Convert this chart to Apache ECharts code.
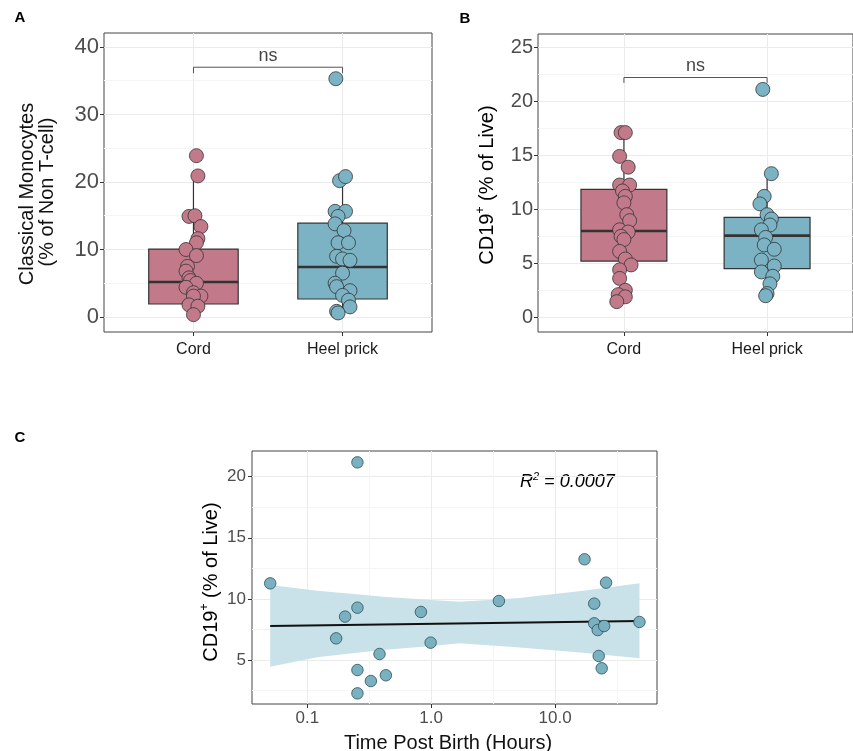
<!DOCTYPE html>
<html>
<head>
<meta charset="utf-8">
<title>CD19 and classical monocytes</title>
<script src="https://cdn.jsdelivr.net/npm/echarts@6.0.0/dist/echarts.min.js"></script>
<style>
  html, body { margin: 0; padding: 0; background: #fff; }
  #chart { width: 853px; height: 751px; }
</style>
</head>
<body>
<div id="chart"></div>
<script>
// groups on the x axis of A and B
var groups = ['Cord', 'Heel prick'];

// panel A: classical monocytes (% of non T-cell), with jitter offsets
var monoCord = [23.9, 20.9, 14.9, 15.0, 13.4, 11.6, 11.0, 10.0, 9.1, 7.5, 6.8, 5.8, 5.4, 5.0, 4.4, 3.6, 3.1, 3.1, 1.8, 1.6, 0.35];
var monoCordJit = [0.02, 0.03, -0.03, 0.01, 0.05, 0.03, 0.02, -0.05, 0.02, -0.04, -0.05, -0.03, -0.02, 0.02, -0.05, 0, 0.05, 0, -0.03, 0.03, 0];
var monoHeel = [35.3, 20.2, 20.8, 15.65, 15.65, 14.9, 13.8, 12.8, 11.0, 11.0, 9.0, 8.6, 8.4, 6.5, 5.0, 4.5, 3.9, 3.2, 2.5, 1.5, 0.84, 0.6];
var monoHeelJit = [-0.045, -0.02, 0.02, -0.05, 0.02, -0.03, -0.05, 0.01, -0.03, 0.04, -0.04, 0, 0.05, 0, -0.05, -0.04, 0.05, 0, 0.04, 0.05, -0.04, -0.03];
// box stats: min, q1, median, q3, max
var monoBoxCord = [0.35, 1.93, 5.19, 10.07, 20.9];
var monoBoxHeel = [0.6, 2.67, 7.4, 13.9, 20.8];

// panel B: CD19+ (% of live)
var cdCord = [17.1, 17.1, 14.9, 13.9, 12.25, 12.25, 11.7, 11.2, 10.6, 9.5, 8.95, 8.1, 7.9, 7.5, 7.2, 6.1, 5.4, 4.85, 4.4, 3.6, 2.5, 2.1, 1.9, 1.45];
var cdCordJit = [-0.02, 0.01, -0.03, 0.03, -0.03, 0.04, -0.01, 0.01, 0, 0.02, 0.04, -0.03, 0.03, -0.02, 0, -0.03, 0.01, 0.05, -0.03, -0.03, 0.01, -0.04, 0.01, -0.05];
var cdHeel = [21.1, 13.3, 11.2, 10.5, 9.5, 9.1, 8.55, 8.1, 7.4, 6.7, 6.3, 5.3, 4.75, 4.2, 3.8, 3.1, 2.2, 2.0];
var cdHeelJit = [-0.03, 0.03, -0.02, -0.05, 0, 0.03, 0.02, -0.04, -0.01, -0.02, 0.05, -0.04, 0.05, -0.04, 0.04, 0.02, 0, -0.01];
var cdBoxCord = [1.45, 5.21, 7.99, 11.85, 17.1];
var cdBoxHeel = [2.0, 4.5, 7.56, 9.26, 13.3];

// significance brackets
var bracketA = [[1, 36.1], [1, 37.0], [2, 37.0], [2, 36.1]];
var bracketB = [[1, 21.7], [1, 22.2], [2, 22.2], [2, 21.7]];

// panel C: time post birth (hours) vs CD19+
var hoursC = [0.0502, 0.254, 0.254, 0.202, 0.171, 0.254, 0.254, 0.326, 0.383, 0.431, 0.826, 0.99, 3.52, 17.3, 20.7, 20.7, 22.1, 24.9, 25.8, 22.5, 23.8, 48.0];
var cd19C = [11.27, 21.17, 9.28, 8.55, 6.77, 4.18, 2.27, 3.28, 5.49, 3.75, 8.93, 6.42, 9.83, 13.24, 9.61, 8.0, 7.45, 7.78, 11.33, 5.33, 4.32, 8.11];
var fitHours = [0.0502, 48.0];
var fitValues = [7.78, 8.2];
var bandHours = [0.0502, 0.12, 0.25, 0.41, 1.0, 1.7, 4.9, 16.9, 48.0];
var bandUpper = [11.14, 10.67, 10.37, 10.18, 9.9, 9.77, 10.05, 10.67, 11.28];
var bandLower = [4.45, 5.22, 5.6, 5.82, 6.15, 6.37, 6.04, 5.6, 5.14];

// ticks
var yTicksA = [0, 10, 20, 30, 40], yMinorA = [5, 15, 25, 35];
var yTicksB = [0, 5, 10, 15, 20, 25], yMinorB = [2.5, 7.5, 12.5, 17.5, 22.5];
var yTicksC = [5, 10, 15, 20], yMinorC = [2.5, 7.5, 12.5, 17.5];
var xTicksC = [0.1, 1, 10], xTickLabelsC = ['0.1', '1.0', '10.0'], xMinorC = [0.316, 3.16, 31.6];

var FONT = '"Liberation Sans", Arial, sans-serif';
var PINK = '#c27a8b', BLUE = '#7bb3c4';
var log10 = function (v) { return Math.log10(v); };

function pts(vals, jit, center) {
  return vals.map(function (v, i) { return [center + jit[i], v]; });
}

function renderBox(params, api) {
  var x = api.value(0);
  var half = 0.3;
  var mn = api.coord([x, api.value(1)]);
  var q1 = api.coord([x - half, api.value(2)]);
  var md = api.coord([x - half, api.value(3)]);
  var q3 = api.coord([x + half, api.value(4)]);
  var mx = api.coord([x, api.value(5)]);
  var fill = params.dataIndex === 0 ? PINK : BLUE;
  return {
    type: 'group',
    children: [
      { type: 'line', shape: { x1: mx[0], y1: mx[1], x2: mx[0], y2: q3[1] }, style: { stroke: '#333', lineWidth: 1.2 } },
      { type: 'line', shape: { x1: mn[0], y1: mn[1], x2: mn[0], y2: q1[1] }, style: { stroke: '#333', lineWidth: 1.2 } },
      { type: 'rect', shape: { x: q1[0], y: q3[1], width: q3[0] - q1[0], height: q1[1] - q3[1] }, style: { fill: fill, stroke: '#333', lineWidth: 1.2 } },
      { type: 'line', shape: { x1: q1[0], y1: md[1], x2: q3[0], y2: md[1] }, style: { stroke: '#333', lineWidth: 2.6 } }
    ]
  };
}

function renderBand(params, api) {
  var up = [], lo = [];
  for (var i = 0; i < bandHours.length; i++) {
    up.push(api.coord([log10(bandHours[i]), bandUpper[i]]));
    lo.unshift(api.coord([log10(bandHours[i]), bandLower[i]]));
  }
  return { type: 'polygon', shape: { points: up.concat(lo) }, style: { fill: '#c9e1e8' } };
}

function catAxis(gi) {
  return {
    type: 'value', gridIndex: gi, min: 0.4, max: 2.6,
    axisLine: { show: false, onZero: false },
    axisTick: { customValues: [1, 2], length: 4, lineStyle: { color: '#333' } },
    axisLabel: { customValues: [1, 2], margin: 10, fontSize: 16, color: '#1a1a1a', fontFamily: FONT,
      formatter: function (v) { return groups[Math.round(v) - 1]; } },
    splitLine: { show: true, lineStyle: { color: '#ebebeb', width: 1 } }
  };
}

function valAxis(gi, min, max, ticks, fs, margin) {
  return {
    type: 'value', gridIndex: gi, min: min, max: max, position: 'left',
    axisLine: { show: false, onZero: false },
    axisTick: { customValues: ticks, length: 4, lineStyle: { color: '#333' } },
    axisLabel: { customValues: ticks, fontSize: fs, color: '#4d4d4d', fontFamily: FONT, margin: margin },
    splitLine: { show: true, lineStyle: { color: '#ebebeb', width: 1 } }
  };
}

function minorAxis(gi, min, max, ticks, pos) {
  return {
    type: 'value', gridIndex: gi, min: min, max: max, position: pos,
    axisLine: { show: false, onZero: false },
    axisTick: { show: false, customValues: ticks },
    axisLabel: { show: false, customValues: ticks },
    splitLine: { show: true, lineStyle: { color: '#f5f5f5', width: 1 } }
  };
}

var chart = echarts.init(document.getElementById('chart'), null, { renderer: 'canvas' });

var nsLabel = { show: true, position: 'top', distance: 2, formatter: 'ns', fontSize: 18, color: '#111', fontFamily: FONT };

var option = {
  animation: false,
  backgroundColor: '#fff',
  textStyle: { fontFamily: FONT },
  grid: [
    { left: 104, top: 33, width: 328, height: 299, show: true, borderColor: '#444', borderWidth: 1, backgroundColor: 'transparent' },
    { left: 538, top: 34, width: 328, height: 298, show: true, borderColor: '#444', borderWidth: 1, backgroundColor: 'transparent' },
    { left: 252, top: 451, width: 405, height: 253, show: true, borderColor: '#444', borderWidth: 1, backgroundColor: 'transparent' }
  ],
  xAxis: [
    catAxis(0),
    catAxis(1),
    {
      type: 'value', gridIndex: 2, min: log10(0.0358), max: log10(66.5), position: 'bottom',
      axisLine: { show: false, onZero: false },
      axisTick: { customValues: xTicksC.map(log10), length: 4, lineStyle: { color: '#333' } },
      axisLabel: { customValues: xTicksC.map(log10), fontSize: 17, color: '#4d4d4d', fontFamily: FONT, margin: 6,
        formatter: function (v) { return xTickLabelsC[Math.round(v) + 1]; } },
      splitLine: { show: true, lineStyle: { color: '#ebebeb', width: 1 } }
    },
    minorAxis(2, log10(0.0358), log10(66.5), xMinorC.map(log10), 'top')
  ],
  yAxis: [
    valAxis(0, -2.22, 42.07, yTicksA, 22, 5),
    minorAxis(0, -2.22, 42.07, yMinorA, 'right'),
    valAxis(1, -1.36, 26.23, yTicksB, 20, 5),
    minorAxis(1, -1.36, 26.23, yMinorB, 'right'),
    valAxis(2, 1.40, 22.10, yTicksC, 17, 6),
    minorAxis(2, 1.40, 22.10, yMinorC, 'right')
  ],
  graphic: [
    { type: 'text', x: 20, y: 18, style: { text: 'A', font: 'bold 15px ' + FONT, fill: '#000', align: 'center', verticalAlign: 'middle' } },
    { type: 'text', x: 465, y: 19, style: { text: 'B', font: 'bold 15px ' + FONT, fill: '#000', align: 'center', verticalAlign: 'middle' } },
    { type: 'text', x: 20, y: 438, style: { text: 'C', font: 'bold 15px ' + FONT, fill: '#000', align: 'center', verticalAlign: 'middle' } },
    { type: 'text', x: 27, y: 194, rotation: Math.PI / 2,
      style: { text: 'Classical Monocytes', font: '20px ' + FONT, fill: '#111', align: 'center', verticalAlign: 'middle' } },
    { type: 'text', x: 47, y: 192, rotation: Math.PI / 2,
      style: { text: '(% of Non T-cell)', font: '20px ' + FONT, fill: '#111', align: 'center', verticalAlign: 'middle' } },
    { type: 'text', x: 487, y: 185, rotation: Math.PI / 2,
      style: { text: '{n|CD19}{s|+}{n| (% of Live)}', align: 'center', verticalAlign: 'middle',
        rich: { n: { fontSize: 20, fontFamily: FONT, color: '#111', lineHeight: 24 }, s: { fontSize: 12, fontFamily: FONT, color: '#111', verticalAlign: 'top', lineHeight: 24 } } } },
    { type: 'text', x: 211, y: 582, rotation: Math.PI / 2,
      style: { text: '{n|CD19}{s|+}{n| (% of Live)}', align: 'center', verticalAlign: 'middle',
        rich: { n: { fontSize: 20, fontFamily: FONT, color: '#111', lineHeight: 24 }, s: { fontSize: 12, fontFamily: FONT, color: '#111', verticalAlign: 'top', lineHeight: 24 } } } },
    { type: 'text', x: 448, y: 743,
      style: { text: 'Time Post Birth (Hours)', font: '20px ' + FONT, fill: '#111', align: 'center', verticalAlign: 'middle' } },
    { type: 'text', x: 520, y: 482,
      style: { text: '{i|R}{s|2}{i| = 0.0007}', align: 'left', verticalAlign: 'middle',
        rich: { i: { fontSize: 18, fontStyle: 'italic', fontFamily: FONT, color: '#111', lineHeight: 22 }, s: { fontSize: 11, fontStyle: 'italic', fontFamily: FONT, color: '#111', verticalAlign: 'top', lineHeight: 22 } } } }
  ],
  series: [
    // panel A
    { type: 'custom', xAxisIndex: 0, yAxisIndex: 0, renderItem: renderBox, encode: { x: 0, y: [1, 2, 3, 4, 5] },
      data: [[1].concat(monoBoxCord), [2].concat(monoBoxHeel)], z: 2 },
    { type: 'scatter', xAxisIndex: 0, yAxisIndex: 0, symbolSize: 14, data: pts(monoCord, monoCordJit, 1),
      itemStyle: { color: PINK, borderColor: '#333', borderWidth: 0.8, opacity: 1 }, z: 3 },
    { type: 'scatter', xAxisIndex: 0, yAxisIndex: 0, symbolSize: 14, data: pts(monoHeel, monoHeelJit, 2),
      itemStyle: { color: BLUE, borderColor: '#333', borderWidth: 0.8, opacity: 1 }, z: 3 },
    { type: 'line', xAxisIndex: 0, yAxisIndex: 0, data: bracketA, symbol: 'none', lineStyle: { color: '#555', width: 1 }, z: 3 },
    { type: 'scatter', xAxisIndex: 0, yAxisIndex: 0, data: [[1.5, 37.0]], symbolSize: 1,
      itemStyle: { color: 'rgba(0,0,0,0)' }, label: nsLabel, z: 4 },
    // panel B
    { type: 'custom', xAxisIndex: 1, yAxisIndex: 2, renderItem: renderBox, encode: { x: 0, y: [1, 2, 3, 4, 5] },
      data: [[1].concat(cdBoxCord), [2].concat(cdBoxHeel)], z: 2 },
    { type: 'scatter', xAxisIndex: 1, yAxisIndex: 2, symbolSize: 14, data: pts(cdCord, cdCordJit, 1),
      itemStyle: { color: PINK, borderColor: '#333', borderWidth: 0.8, opacity: 1 }, z: 3 },
    { type: 'scatter', xAxisIndex: 1, yAxisIndex: 2, symbolSize: 14, data: pts(cdHeel, cdHeelJit, 2),
      itemStyle: { color: BLUE, borderColor: '#333', borderWidth: 0.8, opacity: 1 }, z: 3 },
    { type: 'line', xAxisIndex: 1, yAxisIndex: 2, data: bracketB, symbol: 'none', lineStyle: { color: '#555', width: 1 }, z: 3 },
    { type: 'scatter', xAxisIndex: 1, yAxisIndex: 2, data: [[1.5, 22.2]], symbolSize: 1,
      itemStyle: { color: 'rgba(0,0,0,0)' }, label: nsLabel, z: 4 },
    // panel C
    { type: 'custom', xAxisIndex: 2, yAxisIndex: 4, renderItem: renderBand,
      data: [[log10(bandHours[0]), bandLower[0]]], z: 1 },
    { type: 'line', xAxisIndex: 2, yAxisIndex: 4, symbol: 'none', lineStyle: { color: '#111', width: 2 },
      data: fitHours.map(function (h, i) { return [log10(h), fitValues[i]]; }), z: 2 },
    { type: 'scatter', xAxisIndex: 2, yAxisIndex: 4, symbolSize: 11.5,
      data: hoursC.map(function (h, i) { return [log10(h), cd19C[i]]; }),
      itemStyle: { color: '#79b1c1', borderColor: '#2f4f58', borderWidth: 0.8, opacity: 1 }, z: 3 }
  ]
};

chart.setOption(option);
</script>
</body>
</html>
